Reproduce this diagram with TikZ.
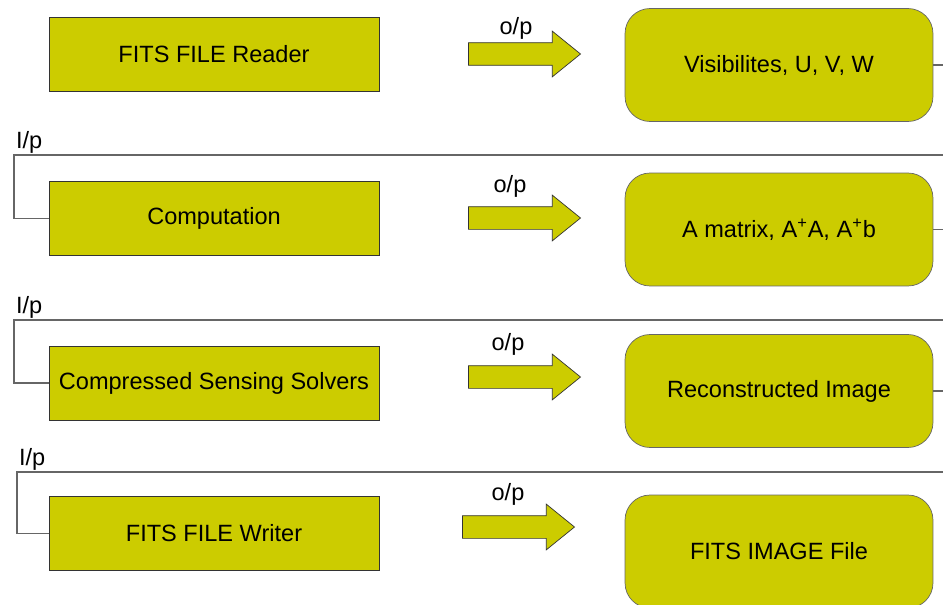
\documentclass[tikz,border=0pt]{standalone}
\usepackage{fontspec}
\setmainfont{Liberation Sans}
\usetikzlibrary{shapes.arrows}
\definecolor{olive}{HTML}{CCCC00}
\tikzset{
    x = 0.02cm, y = -0.02cm,
    every node/.style = {font = \fontsize{13.4}{16}\selectfont},
    module/.style = {draw = black!80, fill = olive, minimum width = 6.6cm, minimum height = 1.48cm},
    result/.style = {draw = black!60, fill = olive, rounded corners = 0.5cm, minimum width = 6.16cm, minimum height = 2.26cm},
    output/.style = {single arrow, draw = black!80, fill = olive, inner sep = 0pt, inner ysep = 0.22cm, minimum height = 2.24cm, single arrow head extend = 0.23cm, single arrow tip angle = 78},
    link/.style = {draw = black!60, line width = 0.7pt}
}

\begin{document}
\begin{tikzpicture}
    \useasboundingbox (0, 0) rectangle (943, 605);

    \node[module] (reader) at (214, 54) {FITS FILE Reader};
    \node[module] (comp) at (214, 218.5) {Computation};
    \node[module] (solver) at (214, 383) {Compressed Sensing Solvers};
    \node[module] (writer) at (214, 533.5) {FITS FILE Writer};

    \node[output] (a1) at (517.5, 54) {};
    \node[output] (a2) at (517.5, 218) {};
    \node[output] (a3) at (517.5, 377) {};
    \node[output] (a4) at (511.5, 527) {};

    \node (op1) at (516, 28) {o/p};
    \node (op2) at (510, 186) {o/p};
    \node (op3) at (508, 344) {o/p};
    \node (op4) at (508, 494) {o/p};

    \node[result] (vis) at (779, 65) {Visibilites, U, V, W};
    \node[result] (mat) at (779, 229.5) {A matrix, A\textsuperscript{+}A, A\textsuperscript{+}b};
    \node[result] (img) at (779, 391) {Reconstructed Image};
    \node[result] (file) at (779, 551.5) {FITS IMAGE File};

    \coordinate (t1) at (960, 155);
    \coordinate (t2) at (960, 320);
    \coordinate (t3) at (960, 472);
    \coordinate (l1) at (14, 155);
    \coordinate (l2) at (14, 320);
    \coordinate (l3) at (17, 472);

    \draw[link] (vis.east) -| (t1) -- (l1) |- (comp.west);
    \draw[link] (mat.east) -| (t2) -- (l2) |- (solver.west);
    \draw[link] (img.east) -| (t3) -- (l3) |- (writer.west);

    \node[anchor = south west, inner sep = 1pt] (ip1) at (l1) {I/p};
    \node[anchor = south west, inner sep = 1pt] (ip2) at (l2) {I/p};
    \node[anchor = south west, inner sep = 1pt] (ip3) at (l3) {I/p};
\end{tikzpicture}
\end{document}
